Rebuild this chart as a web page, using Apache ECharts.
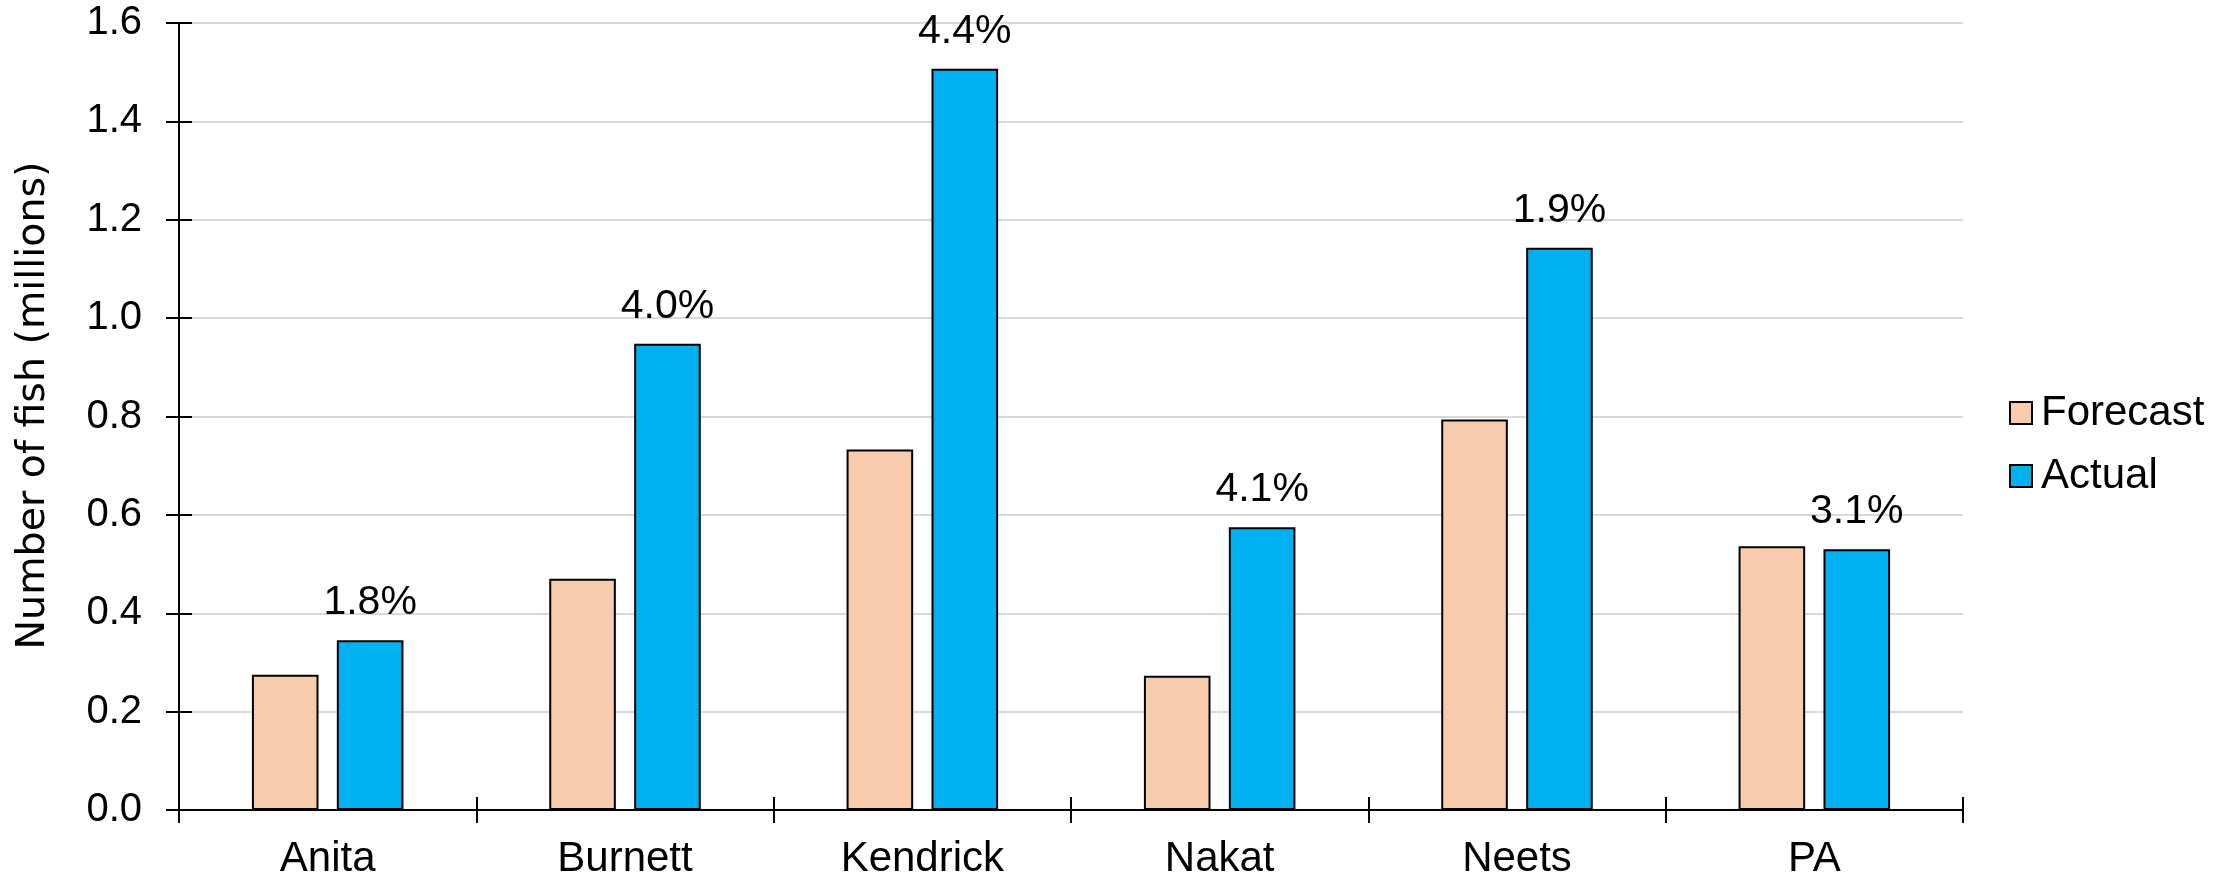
<!DOCTYPE html>
<html><head><meta charset="utf-8">
<script src="https://cdn.jsdelivr.net/npm/echarts@6/dist/echarts.min.js"></script>
<style>html,body{margin:0;padding:0;background:#fff}#c{width:2239px;height:880px}</style>
</head><body><div id="c"></div>
<script>
const categories = ['Anita', 'Burnett', 'Kendrick', 'Nakat', 'Neets', 'PA'];
const forecast = [0.275, 0.470, 0.733, 0.273, 0.794, 0.536];
const actual = [0.345, 0.948, 1.507, 0.575, 1.143, 0.530];
const pctLabels = ['1.8%', '4.0%', '4.4%', '4.1%', '1.9%', '3.1%'];

const FONT = 'Liberation Sans, Arial, sans-serif';
const chart = echarts.init(document.getElementById('c'), null, {renderer: 'canvas'});
chart.setOption({
  animation: false,
  backgroundColor: '#fff',
  grid: {left: 179, right: 276, top: 23, bottom: 70, containLabel: false, outerBoundsMode: 'none'},
  legend: {
    orient: 'vertical', left: 2009, top: 392, padding: 0,
    itemWidth: 22, itemHeight: 22, itemGap: 21,
    icon: 'rect',
    textStyle: {fontFamily: FONT, fontSize: 42, lineHeight: 42, color: '#000', padding: [0, 0, 0, 4]},
    data: ['Forecast', 'Actual']
  },
  xAxis: [{
    type: 'category', data: categories,
    axisLine: {lineStyle: {color: '#000', width: 2}},
    axisTick: {show: true, length: 13, lineStyle: {color: '#000', width: 2}},
    axisLabel: {fontFamily: FONT, fontSize: 42, color: '#000', margin: 28}
  }, {
    type: 'category', data: categories, position: 'bottom', offset: 0,
    axisLine: {show: false},
    axisTick: {show: true, inside: true, length: 13, lineStyle: {color: '#000', width: 2}},
    axisLabel: {show: false}, splitLine: {show: false}
  }],
  yAxis: [{
    type: 'value', min: 0, max: 1.6, interval: 0.2,
    name: 'Number of fish (millions)', nameLocation: 'middle', nameGap: 125, nameRotate: 90,
    nameTextStyle: {fontFamily: 'DejaVu Sans, ' + FONT, fontSize: 39.5, color: '#000', padding: [0, 0, 0, 22]},
    axisLine: {show: true, lineStyle: {color: '#000', width: 2}},
    axisTick: {show: true, length: 13, lineStyle: {color: '#000', width: 2}},
    axisLabel: {fontFamily: FONT, fontSize: 40, color: '#000', margin: 37,
      formatter: v => v.toFixed(1)},
    splitLine: {lineStyle: {color: '#d9d9d9', width: 2}}
  }, {
    type: 'value', min: 0, max: 1.6, interval: 0.2, position: 'left', offset: 0,
    axisLine: {show: false},
    axisTick: {show: true, inside: true, length: 13, lineStyle: {color: '#000', width: 2}},
    axisLabel: {show: false}, splitLine: {show: false}
  }],
  series: [
    {name: 'Forecast', type: 'bar', data: forecast, barWidth: '22.4%', barGap: '27.5%',
     itemStyle: {color: '#F8CBAD', borderColor: '#000', borderWidth: 2}},
    {name: 'Actual', type: 'bar', data: actual, barWidth: '22.4%',
     itemStyle: {color: '#00B0F0', borderColor: '#000', borderWidth: 2},
     label: {show: true, position: 'top', distance: 17, fontFamily: FONT, fontSize: 41, color: '#000',
       formatter: p => pctLabels[p.dataIndex]}}
  ]
});
</script></body></html>
